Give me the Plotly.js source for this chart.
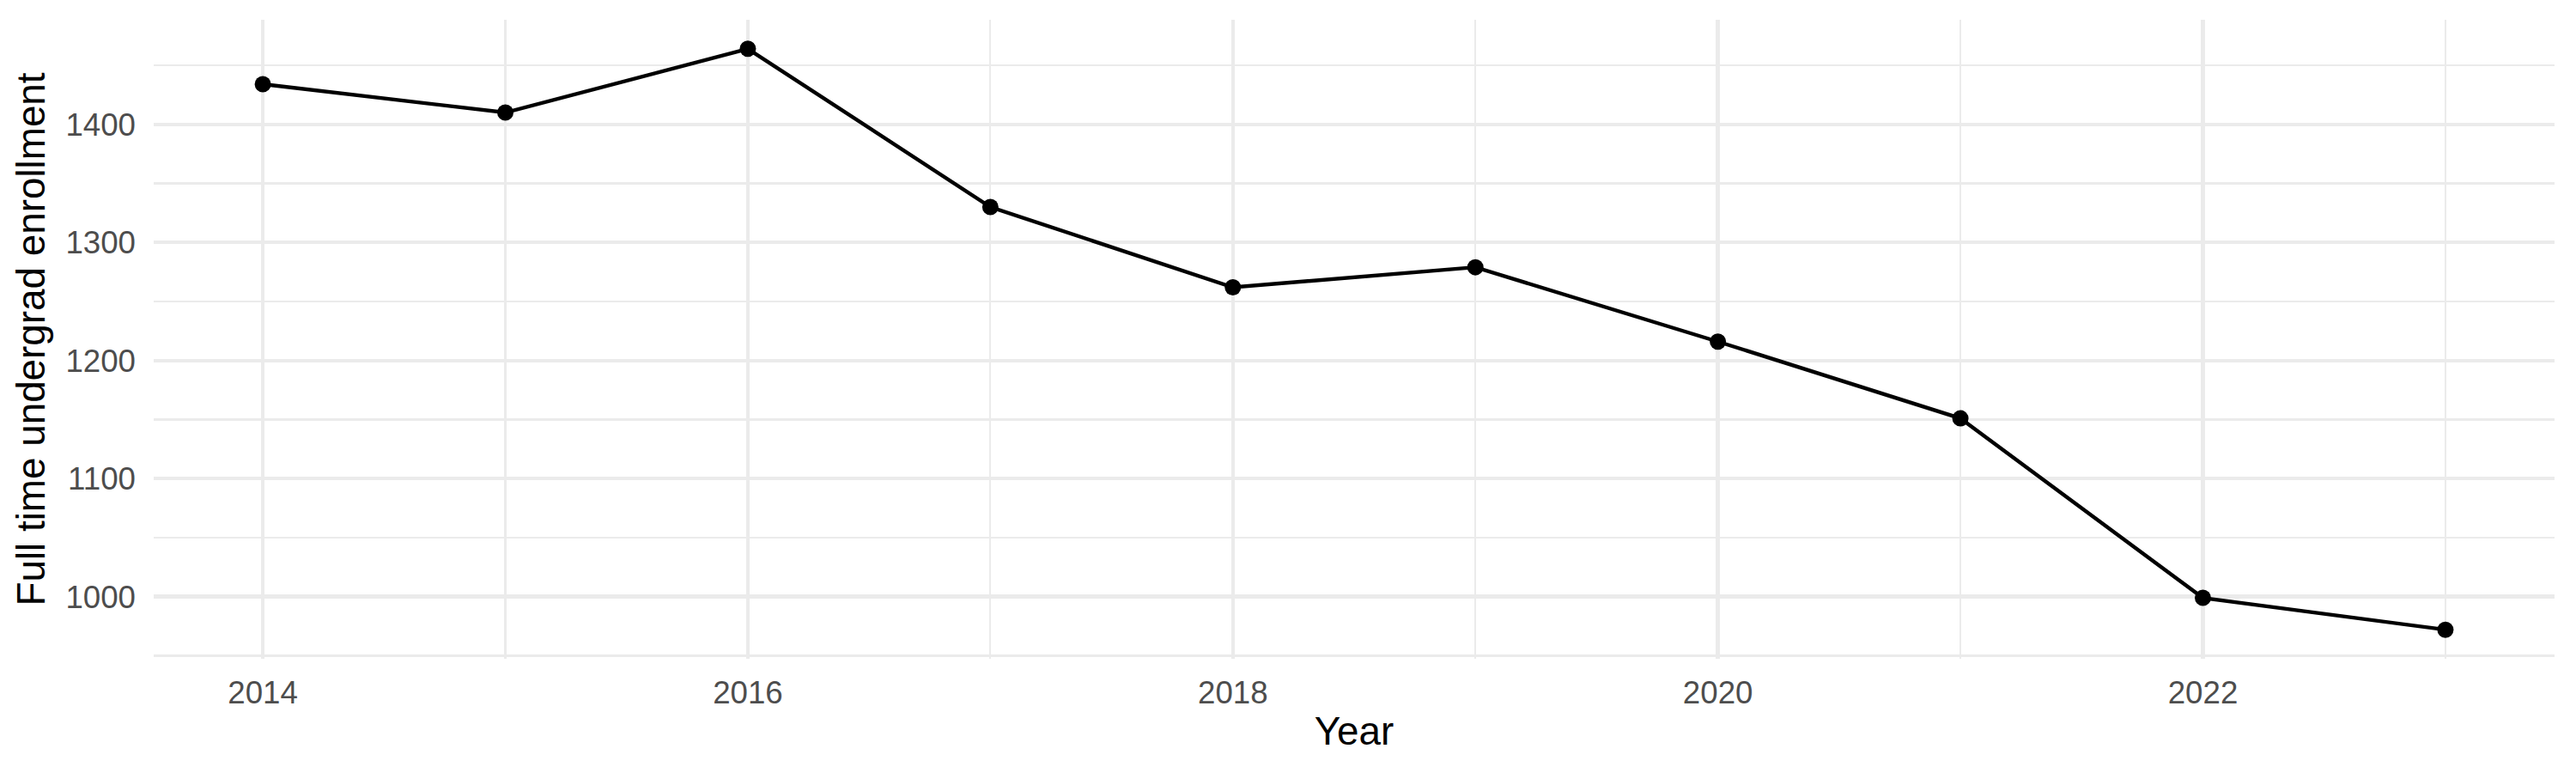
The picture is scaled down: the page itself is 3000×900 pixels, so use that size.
<!DOCTYPE html>
<html>
<head>
<meta charset="utf-8">
<script src="https://cdn.plot.ly/plotly-3.0.1.min.js"></script>
<style>
  html, body { margin: 0; padding: 0; background: #fff; }
  #chart { width: 3000px; height: 900px; }
</style>
</head>
<body>
<div id="chart"></div>
<script>
// enrollment by year
const years = [2014, 2015, 2016, 2017, 2018, 2019, 2020, 2021, 2022, 2023];
const enrollment = [1434, 1410, 1464, 1330, 1262, 1279, 1216, 1151, 999, 972];

const x_ticks = [2014, 2016, 2018, 2020, 2022];
const y_ticks = [1000, 1100, 1200, 1300, 1400];

const font_family = "Liberation Sans, Arial, sans-serif";
const grid_major = "#EBEBEB";

// ggplot style padding: 5% of the data span on each side
function padded(values) {
    const lo = Math.min(...values);
    const hi = Math.max(...values);
    const pad = (hi - lo) * 0.05;
    return [lo - pad, hi + pad];
}

const trace = {
    x: years,
    y: enrollment,
    type: "scatter",
    mode: "lines+markers",
    line: { color: "#000000", width: 4.4 },
    marker: { color: "#000000", size: 19 },
    hoverinfo: "x+y"
};

const layout = {
    width: 3000,
    height: 900,
    margin: { l: 179, r: 25, t: 23, b: 133, pad: 0 },
    paper_bgcolor: "#FFFFFF",
    plot_bgcolor: "#FFFFFF",
    showlegend: false,
    font: { family: font_family, color: "#000000" },
    xaxis: {
        range: padded(years),
        tickmode: "array",
        tickvals: x_ticks,
        ticktext: x_ticks.map(String),
        ticks: "",
        ticklabelstandoff: 14,
        tickfont: { family: font_family, size: 36.7, color: "#4D4D4D" },
        showgrid: true,
        gridcolor: grid_major,
        gridwidth: 4.4,
        minor: { dtick: 1, tick0: 2014, showgrid: true, gridcolor: grid_major, gridwidth: 2.2 },
        zeroline: false,
        showline: false,
        title: { text: "Year", font: { family: font_family, size: 45.8, color: "#000000" }, standoff: 9 }
    },
    yaxis: {
        range: padded(enrollment),
        tickmode: "array",
        tickvals: y_ticks,
        ticktext: y_ticks.map(String),
        ticks: "",
        ticklabelstandoff: 20,
        tickfont: { family: font_family, size: 36.7, color: "#4D4D4D" },
        showgrid: true,
        gridcolor: grid_major,
        gridwidth: 4.4,
        minor: { dtick: 50, tick0: 950, showgrid: true, gridcolor: grid_major, gridwidth: 2.2 },
        zeroline: false,
        showline: false,
        title: { text: "Full time undergrad enrollment", font: { family: font_family, size: 45.8, color: "#000000" }, standoff: 9 }
    }
};

Plotly.newPlot("chart", [trace], layout, { displayModeBar: false, staticPlot: true });
</script>
</body>
</html>
